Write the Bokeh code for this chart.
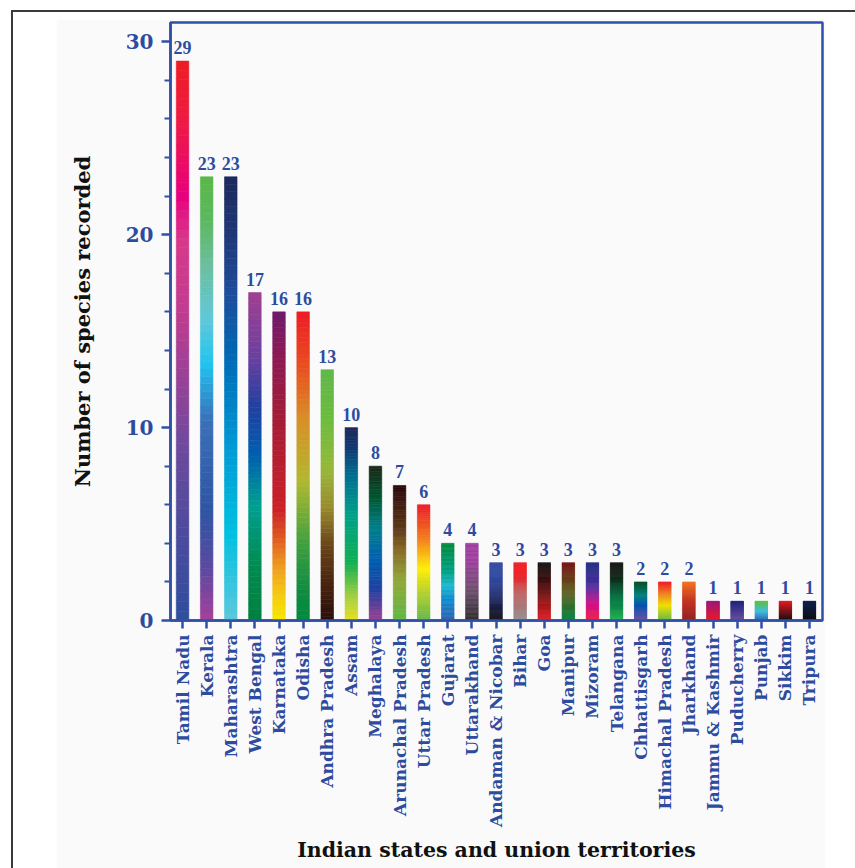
import numpy as np
from bokeh.plotting import figure
from bokeh.models import FixedTicker, ColumnDataSource, Range1d, LabelSet
from bokeh.layouts import column
from bokeh.embed import file_html
from bokeh.resources import INLINE

# ---- data ----
states = ["Tamil Nadu", "Kerala", "Maharashtra", "West Bengal", "Karnataka", "Odisha",
          "Andhra Pradesh", "Assam", "Meghalaya", "Arunachal Pradesh", "Uttar Pradesh",
          "Gujarat", "Uttarakhand", "Andaman & Nicobar", "Bihar", "Goa", "Manipur",
          "Mizoram", "Telangana", "Chhattisgarh", "Himachal Pradesh", "Jharkhand",
          "Jammu & Kashmir", "Puducherry", "Punjab", "Sikkim", "Tripura"]
species = [29, 23, 23, 17, 16, 16, 13, 10, 8, 7, 6, 4, 4, 3, 3, 3, 3, 3, 3, 2, 2, 2, 1, 1, 1, 1, 1]
y_major = [0, 10, 20, 30]
y_minor = [2, 4, 6, 8, 12, 14, 16, 18, 22, 24, 26, 28]

# ---- style: gradient stops per bar (fraction of bar height from bottom, colour) ----
gradients = [
    [(0, "#2e4d9e"), (0.3, "#6a4a9e"), (0.55, "#c03c90"), (0.68, "#d8388a"), (0.76, "#e8007e"), (0.9, "#ee1c40"), (1, "#ee1c25")],
    [(0, "#a6409a"), (0.12, "#5a4aa0"), (0.25, "#2f55a4"), (0.45, "#3a70b8"), (0.58, "#22c4f0"), (0.68, "#60c8d8"), (0.8, "#6cbfa0"), (0.9, "#5cb860"), (1, "#58b848")],
    [(0, "#5ec8dc"), (0.2, "#00c0e0"), (0.4, "#0098d4"), (0.6, "#0068b4"), (0.75, "#1e4a98"), (0.9, "#1e3470"), (1, "#1c2a5c")],
    [(0, "#008040"), (0.16, "#008a50"), (0.35, "#00a090"), (0.5, "#0060b0"), (0.65, "#2040a0"), (0.8, "#6a40a0"), (1, "#a04090")],
    [(0, "#f8e800"), (0.07, "#f5d010"), (0.17, "#f0a020"), (0.26, "#e06020"), (0.36, "#cc2028"), (0.68, "#a01c38"), (0.87, "#8a1a58"), (1, "#6e1a6a")],
    [(0, "#008a40"), (0.1, "#108c40"), (0.25, "#40a040"), (0.45, "#b0b830"), (0.65, "#d89028"), (0.82, "#e85020"), (1, "#ee1c25")],
    [(0, "#2a0e0a"), (0.15, "#4a2410"), (0.3, "#6a4418"), (0.45, "#9a8a30"), (0.6, "#98b838"), (0.8, "#6cbc40"), (1, "#60b848")],
    [(0, "#e8e020"), (0.12, "#a8d040"), (0.3, "#10b050"), (0.55, "#00a088"), (0.75, "#006e90"), (0.9, "#103870"), (1, "#1c2a5c")],
    [(0, "#a04090"), (0.2, "#2040a0"), (0.4, "#0060b0"), (0.6, "#00808a"), (0.8, "#005530"), (1, "#1a2818")],
    [(0, "#60b848"), (0.3, "#90a838"), (0.5, "#8a7028"), (0.7, "#5a3418"), (1, "#2a0a0a")],
    [(0, "#60b848"), (0.25, "#b8d030"), (0.45, "#fff000"), (0.7, "#f08020"), (1, "#ee1c25")],
    [(0, "#3060b0"), (0.3, "#1090d0"), (0.45, "#20b8d0"), (0.65, "#00a080"), (1, "#008a40")],
    [(0, "#303030"), (0.4, "#705070"), (0.8, "#a040a0"), (1, "#a040a0")],
    [(0, "#101010"), (0.35, "#202860"), (0.7, "#3048a0"), (1, "#3048a0")],
    [(0, "#909090"), (0.5, "#c06060"), (0.8, "#ee1c25"), (1, "#ee1c25")],
    [(0, "#e01c24"), (0.3, "#a01818"), (0.6, "#501010"), (1, "#101010")],
    [(0, "#008040"), (0.5, "#606020"), (1, "#701010")],
    [(0, "#ee1c40"), (0.3, "#d0108a"), (0.6, "#5030a0"), (1, "#1c2a80")],
    [(0, "#20b050"), (0.4, "#007040"), (0.75, "#102818"), (1, "#101010")],
    [(0, "#7050a0"), (0.4, "#0050b0"), (0.65, "#008080"), (1, "#005020")],
    [(0, "#60b848"), (0.4, "#f0e000"), (0.7, "#f08020"), (1, "#ee1c25")],
    [(0, "#902020"), (0.5, "#c03020"), (1, "#f07020")],
    [(0, "#ee1c25"), (1, "#a01878")],
    [(0, "#7050a0"), (1, "#202880")],
    [(0, "#3060b0"), (0.5, "#40c0e0"), (1, "#60c040")],
    [(0, "#101010"), (1, "#e01c24")],
    [(0, "#101010"), (1, "#102050")],
]

BLUE = "#2d4c9f"
AXIS_BLUE = "#3050a8"
SERIF = "DejaVu Serif"
BAR_W = 0.52
NSEG = 60


def hex2rgb(h):
    h = h.lstrip("#")
    return np.array([int(h[i:i + 2], 16) for i in (0, 2, 4)], dtype=float)


def interp_color(stops, f):
    pos = [s[0] for s in stops]
    cols = np.array([hex2rgb(s[1]) for s in stops])
    rgb = [np.interp(f, pos, cols[:, k]) for k in range(3)]
    return "#%02x%02x%02x" % tuple(int(round(c)) for c in rgb)


xs = list(range(len(states)))
left, right, bottom, top, colors = [], [], [], [], []
for i, (v, stops) in enumerate(zip(species, gradients)):
    edges = np.linspace(0, v, NSEG + 1)
    for k in range(NSEG):
        left.append(i - BAR_W / 2)
        right.append(i + BAR_W / 2)
        bottom.append(edges[k])
        top.append(edges[k + 1])
        colors.append(interp_color(stops, (k + 0.5) / NSEG))

seg_src = ColumnDataSource(dict(left=left, right=right, bottom=bottom, top=top, color=colors))
lab_src = ColumnDataSource(dict(x=xs, y=species, t=[str(v) for v in species]))

p = figure(width=769, height=850,
           x_range=Range1d(-0.5, len(states) - 0.46), y_range=Range1d(0, 31),
           min_border_left=114, min_border_right=3, min_border_top=3, min_border_bottom=249,
           output_backend="svg", toolbar_location=None)

p.quad(left="left", right="right", bottom="bottom", top="top", source=seg_src,
       fill_color="color", line_color="color", line_width=0.6)

labels = LabelSet(x="x", y="y", text="t", source=lab_src, text_align="center",
                  text_baseline="bottom", y_offset=7, text_color=BLUE,
                  text_font=SERIF, text_font_style="bold", text_font_size="18px")
p.add_layout(labels)

p.background_fill_color = "#fafafa"
p.border_fill_color = "#fafafa"
p.outline_line_color = AXIS_BLUE
p.outline_line_width = 2.5
p.xgrid.visible = False
p.ygrid.visible = False

p.yaxis.ticker = FixedTicker(ticks=y_major, minor_ticks=y_minor)
p.xaxis.ticker = FixedTicker(ticks=xs, minor_ticks=[])
p.xaxis.major_label_overrides = {i: s for i, s in enumerate(states)}
p.xaxis.major_label_orientation = np.pi / 2

for ax in (p.xaxis[0], p.yaxis[0]):
    ax.axis_line_color = AXIS_BLUE
    ax.axis_line_width = 2.5
    ax.major_tick_line_color = AXIS_BLUE
    ax.major_tick_line_width = 2.5
    ax.minor_tick_line_color = AXIS_BLUE
    ax.minor_tick_line_width = 2
    ax.major_tick_in = 0
    ax.minor_tick_in = 0
    ax.major_label_text_color = BLUE
    ax.major_label_text_font = SERIF
    ax.major_label_text_font_style = "bold"
    ax.axis_label_text_font = SERIF
    ax.axis_label_text_font_style = "bold"
    ax.axis_label_text_color = "#111111"

p.yaxis.major_tick_out = 9
p.yaxis.minor_tick_out = 6
p.yaxis.major_label_text_font_size = "20px"
p.yaxis.major_label_standoff = 8
p.yaxis.axis_label = "Number of species recorded"
p.yaxis.axis_label_text_font_size = "21px"
p.yaxis.axis_label_standoff = 28

p.xaxis.major_tick_out = 8
p.xaxis.major_label_text_font_size = "17px"
p.xaxis.major_label_standoff = 6
p.xaxis.axis_label = "Indian states and union territories"
p.xaxis.axis_label_text_font_size = "20.5px"
p.xaxis.axis_label_standoff = 8

p.margin = (7, 40, 10, 43)
page = column(p, margin=(10, 0, 0, 11),
              styles={"border-top": "2px solid #3a3a3a", "border-left": "2px solid #3a3a3a",
                      "background-color": "white"})

open("out.html", "w").write(file_html(page, INLINE))
